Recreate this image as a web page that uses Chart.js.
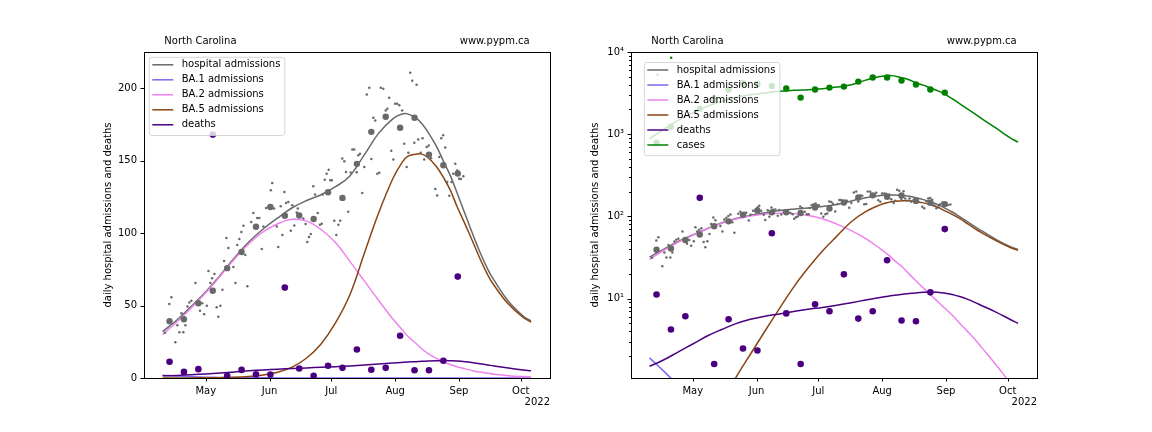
<!DOCTYPE html>
<html><head><meta charset="utf-8">
<script src="https://cdn.jsdelivr.net/npm/chart.js@4.4.1/dist/chart.umd.min.js"></script>
<style>
html,body{margin:0;padding:0;background:#fff;}
#wrap{position:relative;width:1152px;height:432px;overflow:hidden;}
canvas{position:absolute;top:0;}
</style></head><body>
<div id="wrap"><canvas id="c1" width="576" height="432" style="left:0"></canvas><canvas id="c2" width="576" height="432" style="left:576px"></canvas></div>
<script>
// ---- axis / tick labels (days since 2022-05-01) ----
const MONTH_TICKS = [0, 31, 61, 92, 123, 153];
const MONTH_LABELS = ['May', 'Jun', 'Jul', 'Aug', 'Sep', 'Oct'];
const YEAR_LABEL = '2022';
const REGION = 'North Carolina';
const SITE = 'www.pypm.ca';
const Y_TITLE = 'daily hospital admissions and deaths';
const LIN_TICKS = [0, 50, 100, 150, 200];

// ---- model curves ----
const MODEL_DAYS = [-21,-14,-7,0,7,14,21,28,35,42,49,56,63,70,77,84,91,95,98,102,105,108,112,116,119,122,126,130,133,137,140,147,154,158];
const HOSP_MODEL = [32,40,49.5,59.5,71,83,94,103,110.5,117.5,122.5,126.5,132,139.5,154,169,179,182,182.3,179.5,175.5,169.5,160,148,139,128,113,98,87.5,75,67.5,53,43,39.4];
const BA2_MODEL = [30,38.7,48.5,58.8,70.3,82.2,92.7,101,106.5,109.5,108.3,102.5,93.5,80.5,67,53.5,40.5,34,29,24,20,16.8,13.5,10.8,9.2,7.8,6.3,4.9,4.1,3.2,2.6,1.6,0.95,0.72];
const BA5_MODEL = [0.02,0.04,0.07,0.13,0.25,0.5,1.1,2.1,4,7.5,13.8,23.5,38,57.5,86,114,138,148,153,154.5,154.5,152,146,137,129,118.5,106,93,83,71,64,51,42,38.6];
const DEATHS_MODEL = [1.5,1.8,2.25,2.8,3.5,4.2,4.95,5.6,6.1,6.5,6.95,7.4,7.8,8.3,8.9,9.6,10.3,10.7,11,11.3,11.5,11.7,11.9,12,11.9,11.7,11.2,10.5,9.9,9,8.3,6.9,5.6,5.0];
const BA1_DAYS = [-21,-14,-7,0,7,14,21,28,35,42,56,70,84,98,112,126,140,158];
const BA1_MODEL = [1.9,1.3,0.87,0.58,0.39,0.26,0.17,0.11,0.075,0.05,0.022,0.01,0.005,0.002,0.001,0.0005,0.0002,0.0001];
const CASE_DAYS = [-21,-14,-7,0,7,14,21,28,35,42,49,56,63,70,77,84,91,96,101,105,108,112,115,119,122,126,133,140,147,154,158];
const CASES_MODEL = [880,1150,1480,1820,2180,2520,2800,3020,3180,3330,3420,3480,3580,3740,4000,4550,5020,5170,4900,4600,4250,3950,3680,3380,3120,2700,2060,1570,1200,910,800];

// ---- weekly observations ----
const WEEK_DAYS = [-17.6,-10.6,-3.6,3.4,10.4,17.4,24.4,31.4,38.4,45.4,52.4,59.4,66.4,73.4,80.4,87.4,94.4,101.4,108.4,115.4,122.4];
const HOSP_WEEKLY = [39.2,40.6,51.6,60.2,75.8,87,104.4,118,112,112.2,109.7,128.2,124.3,147.8,169.9,180.3,172.7,179.6,154.2,146.8,141.1];
const DEATHS_WEEKLY = [11.2,4.2,6.1,168,1.6,5.6,2.47,2.33,62.4,6.6,1.6,8.5,7.0,19.7,5.7,7.0,29.2,5.4,5.3,11.9,70];
const CASE_WEEK_DAYS = [-17.6,-10.6,3.4,10.4,17.4,24.4,31.4,38.4,45.4,52.4,59.4,66.4,73.4,80.4,87.4,94.4,101.4,108.4,115.4,122.4];
const CASES_WEEKLY = [781,1234,2046,2656,3490,4170,4045,3870,3590,2787,3490,3690,3795,4366,4886,4886,4490,4016,3490,3206];
const CASE_DAILY_DAYS = [-17.1,-10.5];
const CASES_DAILY = [5270,8490];

// ---- daily hospital admissions ----
const HOSP_DAILY_DAYS = [-19.8,-17.7,-16.7,-14.8,-13.8,-12.8,-11.8,-10.9,-9.9,-8.9,-8.0,-7.0,-5.0,-2.8,-1.7,-0.8,0.5,1.3,2.2,3.1,4.2,5.3,6.1,7.1,8.1,8.9,10.0,11.0,13.4,14.4,15.3,16.3,17.3,18.3,19.2,20.2,22.1,23.1,25.0,26.0,27.2,28.0,29.3,30.4,31.6,32.3,33.2,34.5,35.2,36.4,37.2,38.2,39.0,40.1,41.3,42.0,43.0,44.2,44.7,47.4,48.5,49.3,50.1,51.0,52.2,53.1,54.4,55.5,56.3,56.8,57.8,58.7,59.7,60.5,61.2,62.4,63.4,64.4,65.3,66.3,67.3,68.1,69.2,70.4,71.2,72.1,73.3,74.1,74.9,76.0,77.0,78.2,79.4,80.4,81.4,82.3,83.3,84.3,85.0,86.2,87.4,88.2,89.1,90.1,91.1,92.0,93.0,94.0,95.4,96.4,97.6,98.4,99.3,100.3,101.3,102.4,103.2,104.4,105.3,106.1,107.3,108.3,109.4,111.5,112.4,113.4,114.4,115.3,116.3,117.3,118.3,119.4,120.2,121.2,122.1,123.1,123.9,125.1];
const HOSP_DAILY = [31.3,51,55.8,24.7,36.4,31.6,44.7,31.6,36.4,49.3,52.1,53.3,65.5,46.5,51.6,44,49.8,73.8,65.5,68.9,71.7,48.9,42.2,49.8,60.9,80.7,96.6,89.7,76.6,65.5,91.8,95.9,100.8,105.1,84.9,63.4,107.7,113.9,110.4,110.4,89,104.6,117.4,118,129.5,134.6,116.9,104.6,90.4,118.5,98.7,128.4,120.8,121.5,101.7,119.2,105.3,114.3,116.9,110,106.3,93.8,97.3,99.4,132.3,126.6,113.9,105.8,106.5,126.6,136.9,140.9,143.8,136.4,136.4,108.6,98.7,105.8,108.6,151.5,149.6,142.2,114.8,141.8,157.7,157.7,142,153.7,154.7,127.7,145.7,195.7,200.3,151.2,179.6,177.7,140.9,141.6,200.3,199.7,184.6,185.8,193.4,156.8,150.8,189.3,189.3,188.3,184.6,161.6,145.7,155.4,210.7,205.2,162.3,202.4,164.6,155.4,165.5,150.8,159.5,160.4,151.7,130.5,125.9,152.6,165.5,167.6,159.1,135.3,125.7,135.3,140.9,147.8,143.2,137.6,137.4,139.2];

// ---- colours ----
const C_HOSP = '#696969', C_BA1 = '#7b68ee', C_BA2 = '#ee82ee', C_BA5 = '#8b4513', C_DEATH = '#4b0082', C_CASE = '#008000';

Chart.defaults.font.family = "'DejaVu Sans', sans-serif";
Chart.defaults.font.size = 10;
Chart.defaults.color = '#000';

function pts(xs, ys) { return xs.map((x, i) => ({x: x, y: ys[i]})); }
function lineDs(label, xs, ys, color, order) {
  return {label, data: pts(xs, ys), borderColor: color, backgroundColor: color, borderWidth: 1.5,
    pointRadius: 0, pointHoverRadius: 0, tension: 0.4, fill: false, order};
}
function dotDs(label, xs, ys, color, r, order) {
  return {label, data: pts(xs, ys), showLine: false, pointRadius: r, pointHoverRadius: r,
    pointBackgroundColor: color, pointBorderColor: color, pointBorderWidth: 0, borderColor: color, backgroundColor: color, order};
}

const SUP = {'0':'\u2070','1':'\u00b9','2':'\u00b2','3':'\u00b3','4':'\u2074'};

function decoPlugin(legendItems, legOff) {
  return {
    id: 'deco',
    afterDraw(chart) {
      const ctx = chart.ctx, ca = chart.chartArea, xs = chart.scales.x, ys = chart.scales.y;
      ctx.save();
      ctx.strokeStyle = '#000'; ctx.lineWidth = 1;
      ctx.beginPath();
      xs.ticks.forEach(t => { const p = Math.round(xs.getPixelForValue(t.value)) + 0.5; ctx.moveTo(p, ca.bottom); ctx.lineTo(p, ca.bottom + 3.5); });
      ys.ticks.forEach(t => {
        const v = t.value; let len = 3.5;
        if (ys.type === 'logarithmic') { const e = Math.log10(v); if (Math.abs(e - Math.round(e)) > 1e-9) len = 2; }
        const p = Math.round(ys.getPixelForValue(v)) + 0.5;
        if (p < ca.top - 0.5 || p > ca.bottom + 1) return;
        ctx.moveTo(ca.left, p); ctx.lineTo(ca.left - len, p);
      });
      ctx.stroke();
      ctx.strokeRect(Math.round(ca.left) + 0.5, Math.round(ca.top) + 0.5, Math.round(ca.right - ca.left), Math.round(ca.bottom - ca.top));
      ctx.fillStyle = '#000'; ctx.font = "10px 'DejaVu Sans'"; ctx.textBaseline = 'middle';
      const w = ca.right - ca.left;
      ctx.textAlign = 'left'; ctx.fillText(REGION, ca.left + 0.05 * w, ca.top - 10.5);
      ctx.textAlign = 'right'; ctx.fillText(SITE, ca.right - 0.05 * w, ca.top - 10.5);
      ctx.fillText(YEAR_LABEL, ca.right, ca.bottom + 24.5);
      const lx = ca.left + legOff[0], ly = ca.top + legOff[1];
      let maxW = 0; legendItems.forEach(it => { maxW = Math.max(maxW, ctx.measureText(it[0]).width); });
      const bw = 32.4 + maxW + 4.5, bh = 7.5 + (legendItems.length - 1) * 15 + 10.7;
      const r = 2.5;
      ctx.beginPath();
      ctx.moveTo(lx + r, ly); ctx.lineTo(lx + bw - r, ly); ctx.arcTo(lx + bw, ly, lx + bw, ly + r, r);
      ctx.lineTo(lx + bw, ly + bh - r); ctx.arcTo(lx + bw, ly + bh, lx + bw - r, ly + bh, r);
      ctx.lineTo(lx + r, ly + bh); ctx.arcTo(lx, ly + bh, lx, ly + bh - r, r);
      ctx.lineTo(lx, ly + r); ctx.arcTo(lx, ly, lx + r, ly, r); ctx.closePath();
      ctx.fillStyle = 'rgba(255,255,255,0.8)'; ctx.fill();
      ctx.strokeStyle = 'rgba(204,204,204,0.8)'; ctx.lineWidth = 1; ctx.stroke();
      legendItems.forEach((it, i) => {
        const cy = ly + 7.5 + i * 15;
        ctx.strokeStyle = it[1]; ctx.lineWidth = 1.5;
        ctx.beginPath(); ctx.moveTo(lx + 3, cy); ctx.lineTo(lx + 24, cy); ctx.stroke();
        ctx.fillStyle = '#000'; ctx.textAlign = 'left'; ctx.textBaseline = 'middle';
        ctx.fillText(it[0], lx + 32.4, cy);
      });
      ctx.restore();
    }
  };
}

function xScale() {
  return {type: 'linear', min: -30, max: 167.2,
    afterFit: s => { s.height = 54; },
    afterBuildTicks: s => { s.ticks = MONTH_TICKS.map(v => ({value: v})); },
    grid: {display: false, drawTicks: false}, border: {display: false},
    ticks: {autoSkip: false, maxRotation: 0, minRotation: 0, padding: 7, color: '#000',
      callback: v => { const i = MONTH_TICKS.indexOf(v); return i >= 0 ? MONTH_LABELS[i] : ''; }}};
}
const yTitle = {display: true, text: Y_TITLE, color: '#000', font: {size: 10}, padding: {top: 4, bottom: 4}};

const baseDatasets = () => [
  dotDs('deaths data', WEEK_DAYS, DEATHS_WEEKLY, C_DEATH, 3.3, 0),
  dotDs('hospital weekly', WEEK_DAYS, HOSP_WEEKLY, C_HOSP, 3.2, 1),
  dotDs('hospital daily', HOSP_DAILY_DAYS, HOSP_DAILY, C_HOSP, 1.25, 2),
  lineDs('deaths', MODEL_DAYS, DEATHS_MODEL, C_DEATH, 4),
  lineDs('BA.5 admissions', MODEL_DAYS, BA5_MODEL, C_BA5, 5),
  lineDs('BA.2 admissions', MODEL_DAYS, BA2_MODEL, C_BA2, 6),
  lineDs('BA.1 admissions', BA1_DAYS, BA1_MODEL, C_BA1, 7),
  lineDs('hospital admissions', MODEL_DAYS, HOSP_MODEL, C_HOSP, 8)
];

const LEG5 = [['hospital admissions', C_HOSP], ['BA.1 admissions', C_BA1], ['BA.2 admissions', C_BA2], ['BA.5 admissions', C_BA5], ['deaths', C_DEATH]];
const LEG6 = LEG5.concat([['cases', C_CASE]]);

new Chart(document.getElementById('c1'), {
  type: 'line',
  data: {datasets: baseDatasets()},
  options: {
    responsive: false, animation: false, devicePixelRatio: 1,
    layout: {padding: {left: 98, right: 26, top: 52, bottom: 0}},
    plugins: {legend: {display: false}, tooltip: {enabled: false}},
    scales: {
      x: xScale(),
      y: {type: 'linear', min: 0, max: 225,
        afterFit: s => { s.width = 46; },
        afterBuildTicks: s => { s.ticks = LIN_TICKS.map(v => ({value: v})); },
        grid: {display: false, drawTicks: false}, border: {display: false},
        ticks: {autoSkip: false, padding: 7, color: '#000'},
        title: yTitle}
    }
  },
  plugins: [decoPlugin(LEG5, [5.3, 5.3])]
});

const ds2 = baseDatasets();
ds2.push(dotDs('cases data', CASE_WEEK_DAYS, CASES_WEEKLY, C_CASE, 3.2, 1));
ds2.push(dotDs('cases daily', CASE_DAILY_DAYS, CASES_DAILY, C_CASE, 1.25, 2));
ds2.push(lineDs('cases', CASE_DAYS, CASES_MODEL, C_CASE, 9));

new Chart(document.getElementById('c2'), {
  type: 'line',
  data: {datasets: ds2},
  options: {
    responsive: false, animation: false, devicePixelRatio: 1,
    layout: {padding: {left: 9, right: 115, top: 52, bottom: 0}},
    plugins: {legend: {display: false}, tooltip: {enabled: false}},
    scales: {
      x: xScale(),
      y: {type: 'logarithmic', min: 1.08, max: 10000,
        afterFit: s => { s.width = 46; },
        afterBuildTicks: s => {
          const t = [];
          for (let e = 0; e <= 4; e++) for (let m = 1; m <= 9; m++) {
            const v = m * Math.pow(10, e);
            if (v >= s.min && v <= s.max * 1.0000001) t.push({value: v});
          }
          s.ticks = t;
        },
        grid: {display: false, drawTicks: false}, border: {display: false},
        ticks: {autoSkip: false, padding: 7, color: '#000',
          callback: v => { const e = Math.log10(v); const r = Math.round(e); return Math.abs(e - r) < 1e-9 ? '10' + SUP[String(r)] : ''; }},
        title: yTitle}
    }
  },
  plugins: [decoPlugin(LEG6, [13.3, 10.5])]
});
</script>
</body></html>
